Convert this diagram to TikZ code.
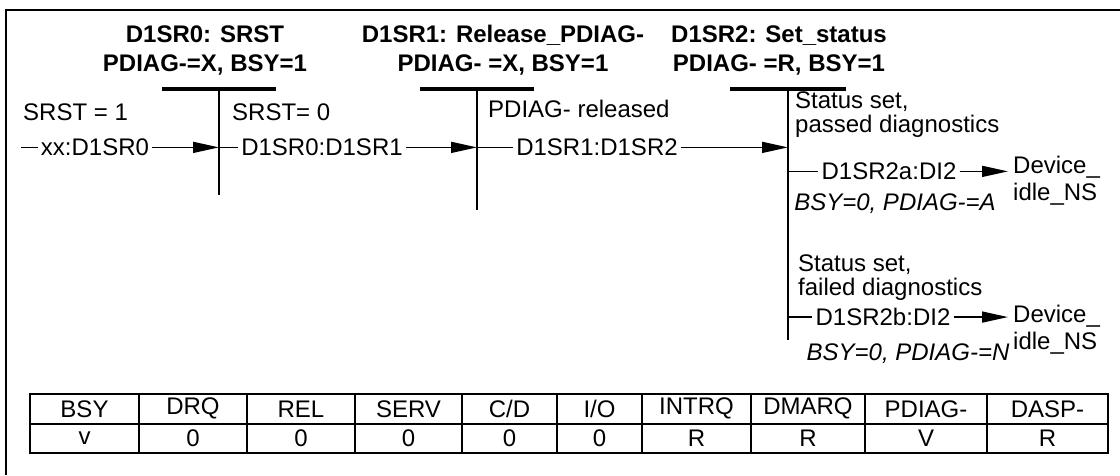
\documentclass[tikz,border=0pt]{standalone}
\usepackage{fontspec}
\setmainfont{Liberation Sans}
\usepackage{tikz}
\usetikzlibrary{
  arrows.meta,
  positioning,
  calc
}
\tikzset{
  base/.style={
    rectangle, inner xsep=3pt, inner ysep=0pt,
    font=\fontsize{24}{24}\selectfont
  },
  lbl/.style={base, anchor=mid west},
  lbl2/.style={base, anchor=west, align=left},
  trans/.style={base, anchor=mid},
  cond/.style={base, anchor=mid, font=\fontsize{24}{24}\selectfont\itshape},
  arr/.style={-{Triangle[length=26pt,width=11pt]}, line width=1.5pt},
  ln/.style={line width=1.5pt},
  vln/.style={line width=2pt}
}

\begin{document}
\begin{tikzpicture}[
    x=1pt, y=-1pt,
    title/.style={
      rectangle, inner sep=0pt, align=center,
      font=\fontsize{24}{29}\selectfont\bfseries
    },
    bar/.style={
      rectangle, fill=black, inner sep=0pt,
      minimum width=114pt, minimum height=4.5pt
    },
    devn/.style={
      base, anchor=west, align=left, inner xsep=5pt,
      font=\fontsize{24}{27}\selectfont
    },
    cell/.style={
      rectangle, draw=black, line width=2pt, inner sep=0pt,
      minimum height=29.5pt, font=\fontsize{24}{24}\selectfont
    },
    ]
    \useasboundingbox (0,0) rectangle (1120,475);

    \draw[line width=2.5pt] (1120,10) -| (6,475);

    \node[title] (st0) at (205,50) {D1SR0: SRST\\PDIAG-=X, BSY=1};
    \node[title] (st1) at (503,50) {D1SR1: Release\_PDIAG-\\PDIAG- =X, BSY=1};
    \node[title] (st2) at (779,50) {D1SR2: Set\_status\\PDIAG- =R, BSY=1};

    \node[bar] (bar0) at (219,89) {};
    \node[bar] (bar1) at (477,89) {};
    \node[bar, minimum width=116pt] (bar2) at (788,89) {};

    \coordinate (end0) at (219,195);
    \coordinate (end1) at (477,210);
    \coordinate (end2) at (788,340);

    \draw[vln] (bar0.center) -- (end0);
    \draw[vln] (bar1.center) -- (end1);
    \draw[vln] (bar2.center) -- (end2);

    \node[lbl] (cnd0) at (20,118) {SRST = 1};
    \node[lbl] (cnd1) at (229,118) {SRST= 0};
    \node[lbl] (cnd2) at (485,115) {PDIAG- released};

    \coordinate (in0) at (21,153);
    \node[trans] (tr0) at (95,153) {xx:D1SR0};
    \draw[ln] (tr0 -| in0) -- (tr0);
    \draw[arr] (tr0) -- (tr0 -| end0);

    \node[trans] (tr1) at (322,153) {D1SR0:D1SR1};
    \draw[ln] (tr1 -| end0) -- (tr1);
    \draw[arr] (tr1) -- (tr1 -| end1);

    \node[trans] (tr2) at (597,153) {D1SR1:D1SR2};
    \draw[ln] (tr2 -| end1) -- (tr2);
    \draw[arr] (tr2) -- (tr2 -| end2);

    \node[lbl2] (cnd3) at (792,115) {Status set,\\passed diagnostics};
    \node[trans] (tr3) at (889,177) {D1SR2a:DI2};
    \node[devn] (dev0) at (1008,181) {Device\_\\idle\_NS};
    \draw[ln] (tr3 -| end2) -- (tr3);
    \draw[arr] (tr3) -- (tr3 -| dev0.west);
    \node[cond] (res0) at (895,208) {BSY=0, PDIAG-=A};

    \node[lbl2] (cnd4) at (795,278) {Status set,\\failed diagnostics};
    \node[trans] (tr4) at (883,323) {D1SR2b:DI2};
    \node[devn] (dev1) at (1008,330) {Device\_\\idle\_NS};
    \draw[ln] (tr4 -| end2) -- (tr4);
    \draw[arr] (tr4) -- (tr4 -| dev1.west);
    \node[cond] (res1) at (908,358) {BSY=0, PDIAG-=N};

    \foreach \l/\r/\hd/\vl [count=\i] in {
        30/139/BSY/v, 139/247/DRQ/0, 247/355/REL/0, 355/462/SERV/0,
        462/557/{C/D}/0, 557/642/{I/O}/0, 642/751/INTRQ/R,
        751/865/DMARQ/R, 865/987/PDIAG-/V, 987/1108/DASP-/R} {
      \node[cell, minimum width={(\r-\l)*1pt}] (hd\i)
        at ({(\l+\r)/2},408.75) {\hd};
      \node[cell, minimum width={(\r-\l)*1pt}] (vl\i)
        at ({(\l+\r)/2},438.25) {\vl};
    }

  \end{tikzpicture}
\end{document}
